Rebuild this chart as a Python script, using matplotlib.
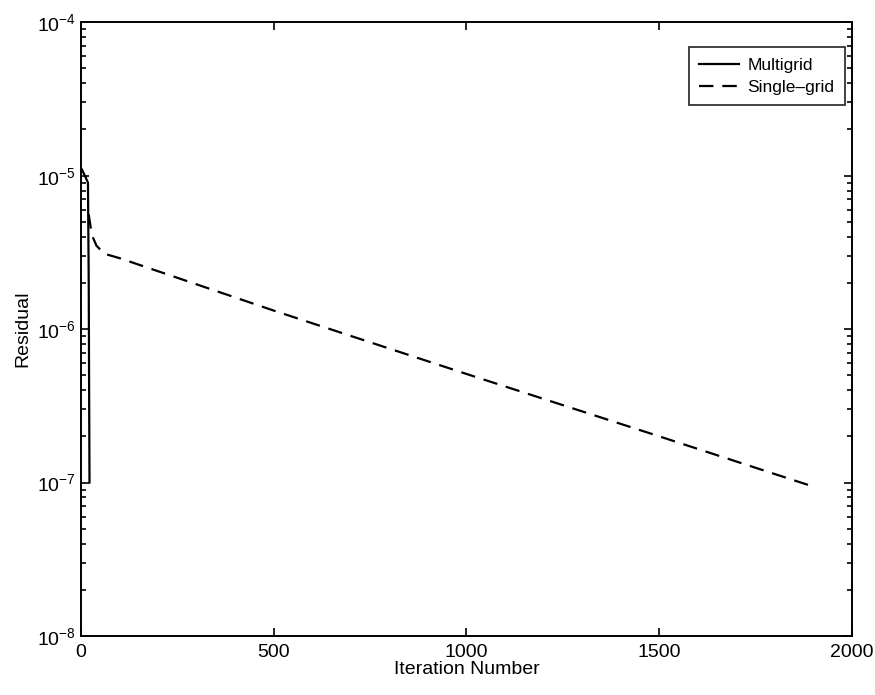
import matplotlib
matplotlib.use("Agg")
import matplotlib.pyplot as plt
from matplotlib.ticker import LogLocator, NullFormatter

plt.rcParams['font.family'] = ['Liberation Sans', 'DejaVu Sans']
plt.rcParams['mathtext.fontset'] = 'custom'
plt.rcParams['mathtext.rm'] = 'Liberation Sans'

# Multigrid convergence history
mg_iter = [2, 10, 18, 20, 21, 22]
mg_resid = [1.1e-5, 1.0e-5, 9.0e-6, 2.0e-6, 4.0e-7, 1.0e-7]

# Single-grid convergence history
sg_iter = [20, 25, 30, 40, 60, 100, 500, 1000, 1500, 1900]
sg_resid = [5.6e-6, 4.6e-6, 4.0e-6, 3.5e-6, 3.1e-6, 2.9e-6, 1.32e-6,
            5.1e-7, 2.0e-7, 9.4e-8]

xticks = [0, 500, 1000, 1500, 2000]

fig = plt.figure(figsize=(8.75, 6.95), dpi=100)
ax = fig.add_axes([0.0926, 0.085, 0.881, 0.883])

ax.semilogy(mg_iter, mg_resid, color='black', linewidth=1.6, label='Multigrid')
ax.semilogy(sg_iter, sg_resid, color='black', linewidth=1.6,
            linestyle=(0, (6.5, 4)), label='Single\u2013grid')

ax.set_xlim(0, 2000)
ax.set_ylim(1e-8, 1e-4)
ax.set_xticks(xticks)
ax.set_xticklabels([str(t) for t in xticks])
ax.yaxis.set_major_locator(LogLocator(base=10, numticks=10))
ax.yaxis.set_minor_locator(LogLocator(base=10, subs=range(2, 10), numticks=50))
ax.yaxis.set_minor_formatter(NullFormatter())
ax.xaxis.set_minor_locator(plt.NullLocator())

ax.tick_params(which='both', direction='in', top=True, right=True,
               labelsize=14, width=1.2)
ax.tick_params(which='major', length=6, pad=4)
ax.tick_params(axis='x', which='major', pad=6)
ax.tick_params(which='minor', length=3.5)
for s in ax.spines.values():
    s.set_linewidth(1.4)

ax.set_xlabel('Iteration Number', fontsize=14, labelpad=0)
ax.set_ylabel('Residual', fontsize=14, labelpad=4)

leg = ax.legend(loc='upper right', fontsize=12.5, frameon=True, fancybox=False,
                edgecolor='black', handlelength=2.3, handletextpad=0.5,
                borderpad=0.6, labelspacing=0.4, borderaxespad=0,
                bbox_to_anchor=(0.991, 0.959))
leg.get_frame().set_linewidth(1.3)

fig.savefig('out.png', dpi=100)
